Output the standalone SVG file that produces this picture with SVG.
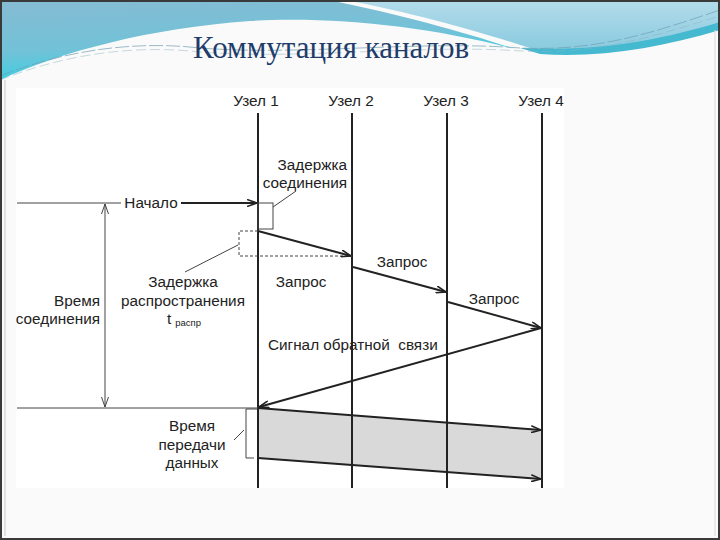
<svg xmlns="http://www.w3.org/2000/svg" width="720" height="540" viewBox="0 0 720 540">
<style>
.t{font-family:"Liberation Sans",Arial,sans-serif;font-size:15.3px;fill:#222}
.life{stroke:#222;stroke-width:2}
.thin{stroke:#444;stroke-width:1;fill:none}
.msg{stroke:#222;stroke-width:2;fill:none}
</style>
<defs>
<linearGradient id="gl" x1="0" y1="0" x2="0.3" y2="1">
<stop offset="0" stop-color="#86bbd2"/>
<stop offset="0.6" stop-color="#72c2d8"/>
<stop offset="1" stop-color="#35d0e2"/>
</linearGradient>
<linearGradient id="gr" x1="0" y1="0" x2="0" y2="1">
<stop offset="0" stop-color="#b4dcea"/>
<stop offset="1" stop-color="#86c9df"/>
</linearGradient>
<marker id="arr" viewBox="0 0 10 8" refX="10" refY="4" markerWidth="10" markerHeight="8" orient="auto-start-reverse" markerUnits="userSpaceOnUse">
<path d="M0,0.5 L10,4 L0,7.5" fill="none" stroke="#222" stroke-width="1.6"/>
</marker>
<marker id="arrt" viewBox="0 0 10 8" refX="10" refY="4" markerWidth="10" markerHeight="8" orient="auto-start-reverse" markerUnits="userSpaceOnUse">
<path d="M0,0.5 L10,4 L0,7.5" fill="none" stroke="#444" stroke-width="1"/>
</marker>
</defs>

<!-- slide background -->
<rect x="0" y="0" width="720" height="540" fill="#fafafa"/>
<path d="M0,0 H328 C400,14 470,34 518,50 C430,26 330,16 250,21 C150,28 60,52 0,80 Z" fill="url(#gl)"/>
<path d="M345,0 H720 V28 C660,46 600,56 545,53 C500,38 425,15 345,0 Z" fill="url(#gr)"/>
<path d="M520,48 C600,52 660,40 720,22 V30 C660,48 600,58 540,54 Z" fill="#45b9d0"/>
<path d="M0,76 C60,52 130,40 200,48 C300,56 420,40 520,48 C600,52 660,30 720,10" fill="none" stroke="#6f9fb0" stroke-width="1" stroke-dasharray="14 3" opacity="0.7"/>
<path d="M0,80 C60,56 130,44 200,52 C300,60 420,44 522,51 C600,55 660,34 720,16" fill="none" stroke="#8ab0bf" stroke-width="0.8" stroke-dasharray="10 4" opacity="0.6"/>
<rect x="1" y="1" width="718" height="538" fill="none" stroke="#3a3a3a" stroke-width="2"/>
<line x1="5" y1="80" x2="5" y2="536" stroke="#c8c8c8" stroke-width="1"/>
<line x1="715" y1="30" x2="715" y2="536" stroke="#d8d8d8" stroke-width="1"/>

<text x="193" y="58" font-family="'Liberation Serif','Times New Roman',serif" font-size="31" fill="#1f3d6b">Коммутация каналов</text>

<!-- diagram area -->
<rect x="16" y="88" width="548" height="400" fill="#ffffff"/>

<polygon points="258,408 542,430 542,479 258,458" fill="#d9d9d9"/>

<g id="node1">
<text class="t" x="256" y="106" text-anchor="middle">Узел 1</text>
<line class="life" x1="258" y1="113" x2="258" y2="488"/>
</g>
<g id="node2">
<text class="t" x="351" y="106" text-anchor="middle">Узел 2</text>
<line class="life" x1="352" y1="113" x2="352" y2="488"/>
</g>
<g id="node3">
<text class="t" x="446" y="106" text-anchor="middle">Узел 3</text>
<line class="life" x1="447" y1="113" x2="447" y2="488"/>
</g>
<g id="node4">
<text class="t" x="541" y="106" text-anchor="middle">Узел 4</text>
<line class="life" x1="542" y1="113" x2="542" y2="488"/>
</g>

<g id="connection-delay">
<rect class="thin" x="258" y="203" width="15" height="26"/>
<line class="thin" x1="273" y1="207" x2="296" y2="191"/>
<text class="t" x="347" y="170" text-anchor="end">Задержка</text>
<text class="t" x="347" y="188" text-anchor="end">соединения</text>
</g>

<g id="propagation-delay">
<path d="M258,231 H239 V256 H352" fill="none" stroke="#444" stroke-width="1" stroke-dasharray="3 2"/>
<line class="thin" x1="238" y1="245" x2="185" y2="272"/>
<text class="t" x="183" y="287" text-anchor="middle">Задержка</text>
<text class="t" x="183" y="306" text-anchor="middle">распространения</text>
<text class="t" x="167" y="324">t<tspan font-size="9.5" dx="4" dy="2">распр</tspan></text>
</g>

<g id="connection-time">
<text class="t" x="100" y="306" text-anchor="end">Время</text>
<text class="t" x="100" y="324" text-anchor="end">соединения</text>
</g>

<g id="start">
<text class="t" x="151" y="208" text-anchor="middle">Начало</text>
</g>

<g id="data-time">
<path class="thin" d="M257,409 H246 V458 H254"/>
<line class="thin" x1="244" y1="430" x2="234" y2="440"/>
<text class="t" x="192" y="431" text-anchor="middle">Время</text>
<text class="t" x="192" y="450" text-anchor="middle">передачи</text>
<text class="t" x="192" y="468" text-anchor="middle">данных</text>
</g>

<g id="connectors">
<line class="thin" x1="17" y1="203" x2="121" y2="203"/>
<line class="msg" x1="181" y1="203" x2="257" y2="203" marker-end="url(#arr)"/>
<line class="thin" x1="17" y1="408" x2="258" y2="408"/>
<line class="thin" x1="105" y1="204" x2="105" y2="407" marker-start="url(#arrt)" marker-end="url(#arrt)"/>
<line class="msg" x1="258" y1="231" x2="351" y2="256" marker-end="url(#arr)"/>
<line class="msg" x1="353" y1="267" x2="446" y2="292" marker-end="url(#arr)"/>
<line class="msg" x1="448" y1="302" x2="541" y2="328" marker-end="url(#arr)"/>
<line class="msg" x1="541" y1="328" x2="259" y2="407" marker-end="url(#arr)"/>
<line class="msg" x1="258" y1="408" x2="541" y2="430" marker-end="url(#arr)"/>
<line class="msg" x1="258" y1="458" x2="541" y2="479" marker-end="url(#arr)"/>
<text class="t" x="301" y="287" text-anchor="middle">Запрос</text>
<text class="t" x="402" y="267" text-anchor="middle">Запрос</text>
<text class="t" x="494" y="304" text-anchor="middle">Запрос</text>
<text class="t" x="268" y="350" xml:space="preserve" style="white-space:pre">Сигнал обратной  связи</text>
</g>
</svg>
